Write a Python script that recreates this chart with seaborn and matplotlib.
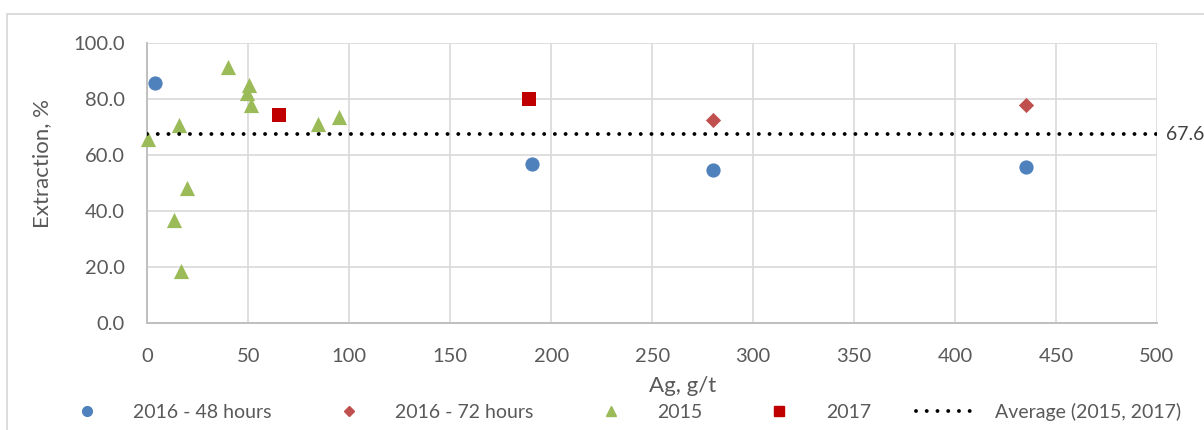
import matplotlib
matplotlib.use('Agg')
import matplotlib.pyplot as plt
import seaborn as sns
from matplotlib.patches import Rectangle
from matplotlib.lines import Line2D

# data
h48_ag = [4.0, 190.5, 280.0, 435.0]
h48_ext = [85.9, 57.0, 54.8, 55.9]

h72_ag = [280.0, 435.0]
h72_ext = [72.6, 78.0]

y2015_ag = [0.2, 13.1, 15.5, 16.5, 19.5, 39.8, 49.2, 50.5, 51.5, 84.7, 94.7]
y2015_ext = [65.7, 36.9, 70.8, 18.8, 48.4, 91.7, 82.1, 85.1, 78.0, 71.1, 73.6]

y2017_ag = [65.0, 189.1]
y2017_ext = [74.5, 80.0]

avg_ag = [0, 500]
avg_ext = [67.6, 67.6]
avg_label = '67.6'

x_ticks = [0, 50, 100, 150, 200, 250, 300, 350, 400, 450, 500]
y_ticks = [0, 20, 40, 60, 80, 100]

sns.set_style('white')
plt.rcParams['font.family'] = ['Lato', 'DejaVu Sans']

TXT = '#595959'
GRID = '#D9D9D9'
DOTS = (0, (0.01, 2.75))

fig = plt.figure(figsize=(12.04, 4.30), dpi=100)
ax = fig.add_axes([147.3 / 1204, 1 - 323.3 / 430, (1157 - 147.3) / 1204, 280 / 430])

# outer chart-area frame (runs off the right/bottom edges)
fig.add_artist(Rectangle((7 / 1204, -0.1), 1.2, 1 - 14 / 430 + 0.1,
                         transform=fig.transFigure, fill=False,
                         edgecolor=GRID, lw=1.3))

sns.lineplot(x=avg_ag, y=avg_ext, ax=ax, color='black', lw=2.8,
             linestyle=DOTS, dash_capstyle='round', zorder=5,
             legend=False)

sns.scatterplot(x=h48_ag, y=h48_ext, ax=ax, color='#4F81BD', marker='o',
                s=105, linewidth=0, zorder=4, clip_on=False)
sns.scatterplot(x=h72_ag, y=h72_ext, ax=ax, color='#C0504D', marker='D',
                s=60, linewidth=0, zorder=4, clip_on=False)
sns.scatterplot(x=y2015_ag, y=y2015_ext, ax=ax, color='#9BBB59', marker='^',
                s=120, linewidth=0, zorder=4, clip_on=False)
sns.scatterplot(x=y2017_ag, y=y2017_ext, ax=ax, color='#C00000', marker='s',
                s=105, linewidth=0, zorder=4, clip_on=False)

ax.text(1.0085, avg_ext[0] / 100, avg_label, transform=ax.transAxes,
        ha='left', va='center', fontsize=14, color='#404040', clip_on=False)

ax.set_xlim(0, 500)
ax.set_ylim(0, 100)
ax.set_xticks(x_ticks)
ax.set_yticks(y_ticks)
ax.set_yticklabels(['%.1f' % v for v in y_ticks])
ax.grid(True, color=GRID, lw=1.2)
ax.set_axisbelow(True)
for side in ['top', 'right']:
    ax.spines[side].set_visible(False)
ax.spines['bottom'].set_color('#BFBFBF')
ax.spines['left'].set_color('#BFBFBF')
ax.spines['bottom'].set_linewidth(1.4)
ax.spines['left'].set_linewidth(1.4)
ax.tick_params(axis='x', length=0, pad=18, labelsize=14.5, labelcolor=TXT)
ax.tick_params(axis='y', length=0, pad=16, labelsize=14.5, labelcolor=TXT)

ax.set_xlabel('Ag, g/t', fontsize=16, color=TXT)
ax.set_ylabel('Extraction, %', fontsize=16, color=TXT)
ax.xaxis.set_label_coords(0.53, -0.225)
ax.xaxis.label.set_verticalalignment('center')
ax.yaxis.set_label_coords(-0.104, 0.572)
ax.yaxis.label.set_verticalalignment('center')

handles = [
    Line2D([], [], ls='none', marker='o', color='#4F81BD', ms=7),
    Line2D([], [], ls='none', marker='D', color='#C0504D', ms=5.5),
    Line2D([], [], ls='none', marker='^', color='#9BBB59', ms=7),
    Line2D([], [], ls='none', marker='s', color='#C00000', ms=7),
    Line2D([], [], color='black', lw=2.8, ls=DOTS, dash_capstyle='round'),
]
labels = ['2016 - 48 hours', '2016 - 72 hours', '2015', '2017',
          'Average (2015, 2017)']
fig.legend(handles, labels, loc='center', bbox_to_anchor=(0.513, 0.042),
           ncol=5, frameon=False, fontsize=14, labelcolor=TXT,
           handlelength=3.3, handletextpad=0.75, columnspacing=2.3)

fig.savefig('out.png', dpi=100)
